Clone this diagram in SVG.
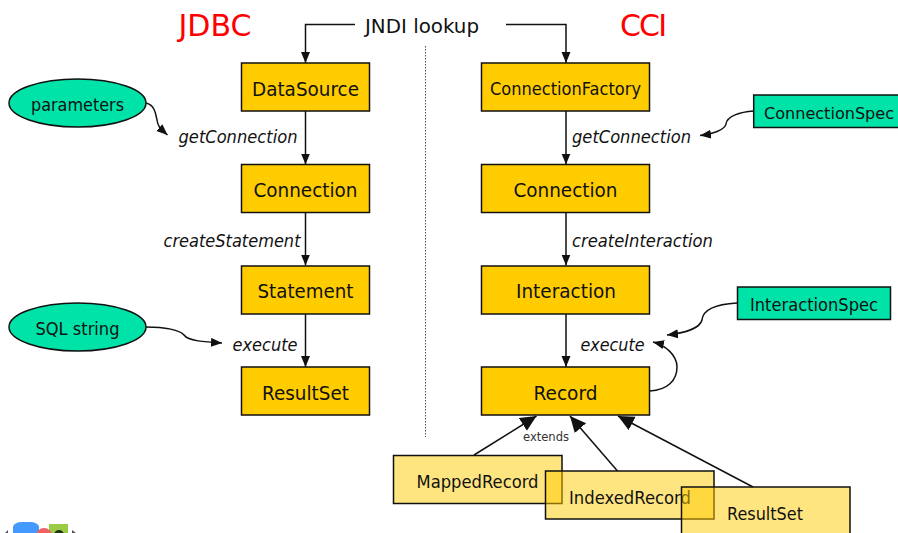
<svg xmlns="http://www.w3.org/2000/svg" width="898" height="533" viewBox="0 0 898 533">
<style>
text{font-family:"DejaVu Sans","Noto Sans",sans-serif;fill:#111;font-size:20px;text-anchor:middle}
.box{fill:#FFCC00;stroke:#111;stroke-width:1.5}
.sub{fill:#FFCC00;fill-opacity:.5;stroke:#111;stroke-width:1.5}
.teal{fill:#00E3A8;stroke:#111;stroke-width:1.5}
.lbl{font-style:italic;font-size:18px}
.title{fill:#FF0000;font-size:30px}
.c{fill:none;stroke:#111;stroke-width:1.5}
.a{marker-end:url(#ah)}
.b{marker-end:url(#big)}
</style>
<defs>
<marker id="ah" markerUnits="userSpaceOnUse" markerWidth="12" markerHeight="10" refX="11" refY="4.5" orient="auto"><path d="M0,0L11,4.5L0,9Z" fill="#111"/></marker>
<marker id="big" markerUnits="userSpaceOnUse" markerWidth="18" markerHeight="16" refX="16" refY="7.5" orient="auto"><path d="M0,0L16,7.5L0,15Z" fill="#111"/></marker>
</defs>
<rect width="898" height="533" fill="#fff"/>
<text class="title" x="215" y="36" textLength="73" lengthAdjust="spacingAndGlyphs">JDBC</text>
<text class="title" x="643.5" y="36" textLength="47" lengthAdjust="spacing">CCI</text>
<text x="422" y="33" textLength="114" lengthAdjust="spacingAndGlyphs">JNDI lookup</text>
<path d="M425.5,46V437" fill="none" stroke="#555" stroke-width="1" stroke-dasharray="1.5 1.5"/>
<g id="connectors">
<path class="c a" d="M355,24.5H305.5V63"/>
<path class="c a" d="M506,24.5H566V63"/>
<path class="c a" d="M305.5,111V164.5"/>
<path class="c a" d="M305.5,212V265.5"/>
<path class="c a" d="M305.5,314V367"/>
<path class="c a" d="M566,111V164.5"/>
<path class="c a" d="M566,212V265.5"/>
<path class="c a" d="M566,314V367"/>
<path class="c a" d="M146,103C155,105 156,115 157,120C158,128 162,130 167.5,135"/>
<path class="c a" d="M753.7,111C740,112 727,116 726,124C725,130 712,134 700,135.5"/>
<path class="c a" d="M146,327C165,327 180,330 184,335C188,341 205,342 222,343"/>
<path class="c a" d="M737,303C720,304 703,308 702,320C700,328 685,333 667,335"/>
<path class="c a" d="M649.7,391C668,390 677,380 677,367C677,355 665,345 653,342"/>
<path class="c b" d="M474,455L536.5,416"/>
<path class="c b" d="M617.5,471L570,416"/>
<path class="c b" d="M753,487L618,416"/>
</g>
<g id="ds"><rect class="box" x="241.5" y="63" width="128" height="48"/><text x="305.5" y="96" textLength="107" lengthAdjust="spacingAndGlyphs">DataSource</text></g>
<g id="conn1"><rect class="box" x="241.5" y="164.5" width="128" height="48"/><text x="305.5" y="197" textLength="104" lengthAdjust="spacingAndGlyphs">Connection</text></g>
<g id="stmt"><rect class="box" x="241.5" y="266" width="128" height="48"/><text x="305.5" y="298" textLength="96" lengthAdjust="spacingAndGlyphs">Statement</text></g>
<g id="rs1"><rect class="box" x="241.5" y="367" width="128" height="48"/><text x="305.5" y="400" textLength="87" lengthAdjust="spacingAndGlyphs">ResultSet</text></g>
<g id="cf"><rect class="box" x="481.5" y="63" width="168" height="48"/><text x="565.5" y="95" style="font-size:18px" textLength="151" lengthAdjust="spacingAndGlyphs">ConnectionFactory</text></g>
<g id="conn2"><rect class="box" x="481.5" y="164.5" width="168" height="48"/><text x="565.5" y="197" textLength="104" lengthAdjust="spacingAndGlyphs">Connection</text></g>
<g id="inter"><rect class="box" x="481.5" y="266" width="168" height="48"/><text x="566" y="298" textLength="100" lengthAdjust="spacingAndGlyphs">Interaction</text></g>
<g id="rec"><rect class="box" x="481.5" y="367" width="168" height="48"/><text x="565.5" y="400" textLength="64" lengthAdjust="spacingAndGlyphs">Record</text></g>
<g id="mapped"><rect class="sub" x="393.5" y="455.5" width="168.5" height="48"/><text x="477.5" y="488" style="font-size:18px" textLength="122" lengthAdjust="spacingAndGlyphs">MappedRecord</text></g>
<g id="indexed"><rect class="sub" x="545.5" y="471" width="168.5" height="48"/><text x="630" y="504" style="font-size:18px" textLength="122" lengthAdjust="spacingAndGlyphs">IndexedRecord</text></g>
<g id="rs2"><rect class="sub" x="681.5" y="487" width="168.5" height="48"/><text x="765" y="520" style="font-size:18px" textLength="76" lengthAdjust="spacingAndGlyphs">ResultSet</text></g>
<g id="params"><ellipse class="teal" cx="77.5" cy="103" rx="68.5" ry="24"/><text x="77.5" y="111" style="font-size:17px" textLength="93" lengthAdjust="spacingAndGlyphs">parameters</text></g>
<g id="sql"><ellipse class="teal" cx="77.5" cy="327" rx="68.5" ry="24"/><text x="77.5" y="335" style="font-size:17px" textLength="84" lengthAdjust="spacingAndGlyphs">SQL string</text></g>
<g id="cspec"><rect class="teal" x="753.7" y="95" width="146" height="32.5"/><text x="829" y="119" style="font-size:16px" textLength="130" lengthAdjust="spacingAndGlyphs">ConnectionSpec</text></g>
<g id="ispec"><rect class="teal" x="737.5" y="287" width="153" height="32.5"/><text x="814" y="311" style="font-size:18px" textLength="128" lengthAdjust="spacingAndGlyphs">InteractionSpec</text></g>
<text class="lbl" x="238" y="143" textLength="119" lengthAdjust="spacingAndGlyphs">getConnection</text>
<text class="lbl" x="232" y="247" textLength="137" lengthAdjust="spacingAndGlyphs">createStatement</text>
<text class="lbl" x="265" y="351" textLength="65" lengthAdjust="spacingAndGlyphs">execute</text>
<text class="lbl" x="631.5" y="143" textLength="119" lengthAdjust="spacingAndGlyphs">getConnection</text>
<text class="lbl" x="642.5" y="247" textLength="141" lengthAdjust="spacingAndGlyphs">createInteraction</text>
<text class="lbl" x="612.5" y="351" textLength="64" lengthAdjust="spacingAndGlyphs">execute</text>
<text x="546" y="441" style="font-size:12px;fill:#333" textLength="46" lengthAdjust="spacingAndGlyphs">extends</text>
<rect x="13" y="522" width="26" height="20" rx="9" ry="5" fill="#4499FF"/>
<rect x="49" y="524" width="19" height="9" fill="#99CC44"/>
<circle cx="44" cy="536" r="8" fill="#F06060"/>
<circle cx="59" cy="535" r="5" fill="#223311"/>
<path d="M5,533L8,530V533ZM72,530L76,533H72Z" fill="#555"/>
</svg>
